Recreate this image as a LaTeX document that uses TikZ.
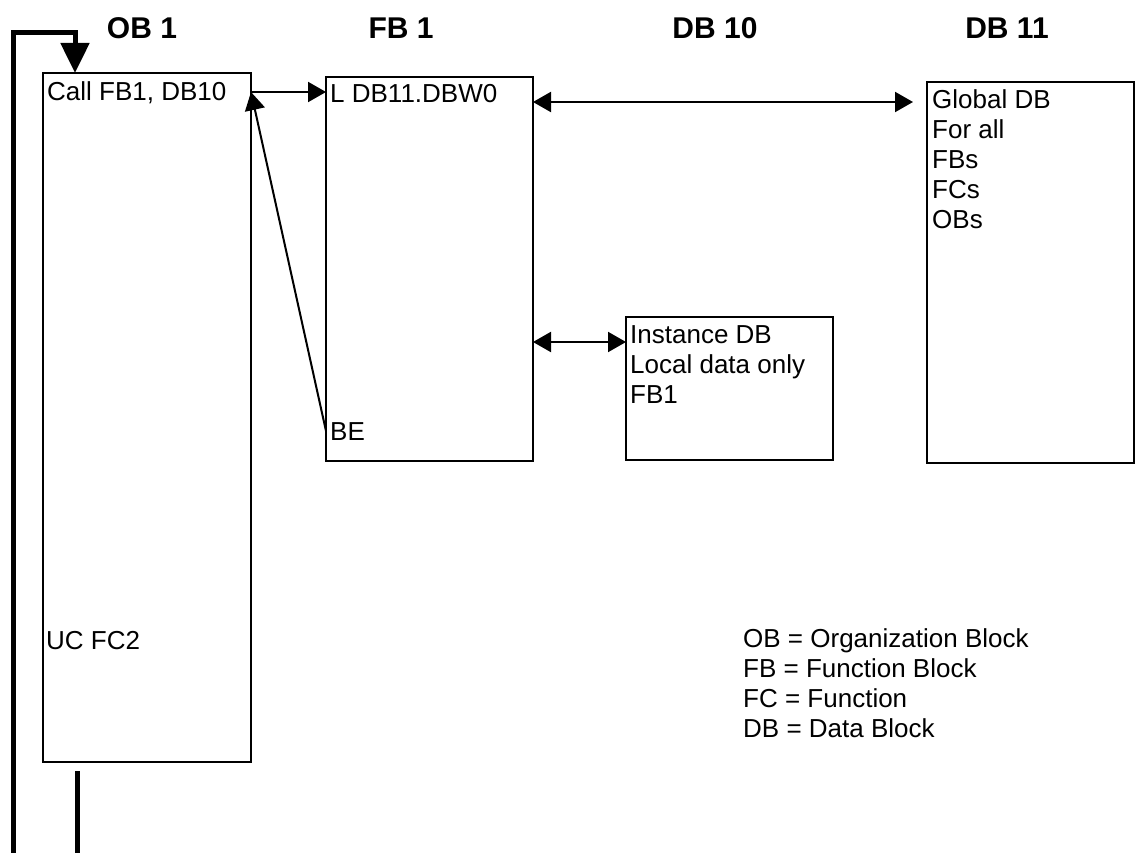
\documentclass[tikz,border=0pt]{standalone}
\usepackage{fontspec}
\setmainfont{Liberation Sans}
\usetikzlibrary{arrows.meta}
\begin{document}
\begin{tikzpicture}[x=1pt,y=-1pt,
  blk/.style={draw, line width=2.5pt, inner sep=0pt, outer sep=0pt, anchor=north west},
  txt/.style={anchor=base west, inner sep=0pt, font=\fontsize{26}{30}\selectfont, align=left},
  ttl/.style={anchor=base, inner sep=0pt, font=\fontsize{30}{34}\selectfont\bfseries},
  conn/.style={line width=2pt, -{Triangle[length=18pt,width=20pt]}},
  dconn/.style={line width=2pt, {Triangle[length=18pt,width=20pt]}-{Triangle[length=18pt,width=20pt]}},
  looppath/.style={line width=5pt, line join=miter, -{Triangle[length=30pt,width=28pt]}}]
\useasboundingbox (0,0) rectangle (1137,853);
% titles
\node[ttl] (tob) at (142,39) {OB 1};
\node[ttl] (tfb) at (401,39) {FB 1};
\node[ttl] (tdb10) at (715,39) {DB 10};
\node[ttl] (tdb11) at (1007,39) {DB 11};
% blocks
\node[blk, minimum width=208pt, minimum height=689pt] (ob1) at (43,73) {};
\node[blk, minimum width=207pt, minimum height=384pt] (fb1) at (326,77) {};
\node[blk, minimum width=207pt, minimum height=143pt] (db10) at (626,317) {};
\node[blk, minimum width=207pt, minimum height=381pt] (db11) at (927,82) {};
% texts (multi-line nodes: base = baseline of last line)
\node[txt] (call) at (47,101) {Call FB1, DB10};
\node[txt] (uc) at (46,649) {UC FC2};
\node[txt] (ld) at (330,103) {L DB11.DBW0};
\node[txt] (be) at (330,440) {BE};
\node[txt] (inst) at (630,403) {Instance DB\\Local data only\\FB1};
\node[txt] (glob) at (932,229) {Global DB\\For all\\FBs\\FCs\\OBs};
\node[txt] (leg) at (743,737) {OB = Organization Block\\FB = Function Block\\FC = Function\\DB = Data Block};
% rows
\coordinate (r1) at (0,92);
\coordinate (r2) at (0,102);
\coordinate (r3) at (0,342);
\coordinate (r4) at (0,431);
% connectors
\draw[conn] (ob1.east |- r1) -- (fb1.west |- r1);
\draw[dconn, shorten >=14pt] (fb1.east |- r2) -- (db11.west |- r2);
\draw[dconn] (fb1.east |- r3) -- (db10.west |- r3);
\draw[conn] (fb1.west |- r4) -- (ob1.east |- r1);
% cycle loop
\coordinate (lstart) at (77.5,771);
\coordinate (lx) at (75,0);
\draw[looppath] (lstart) -- (77.5,855) -- (13.7,855) -- (13.7,33) -- (75,33) -- (ob1.north -| lx);
\end{tikzpicture}
\end{document}
